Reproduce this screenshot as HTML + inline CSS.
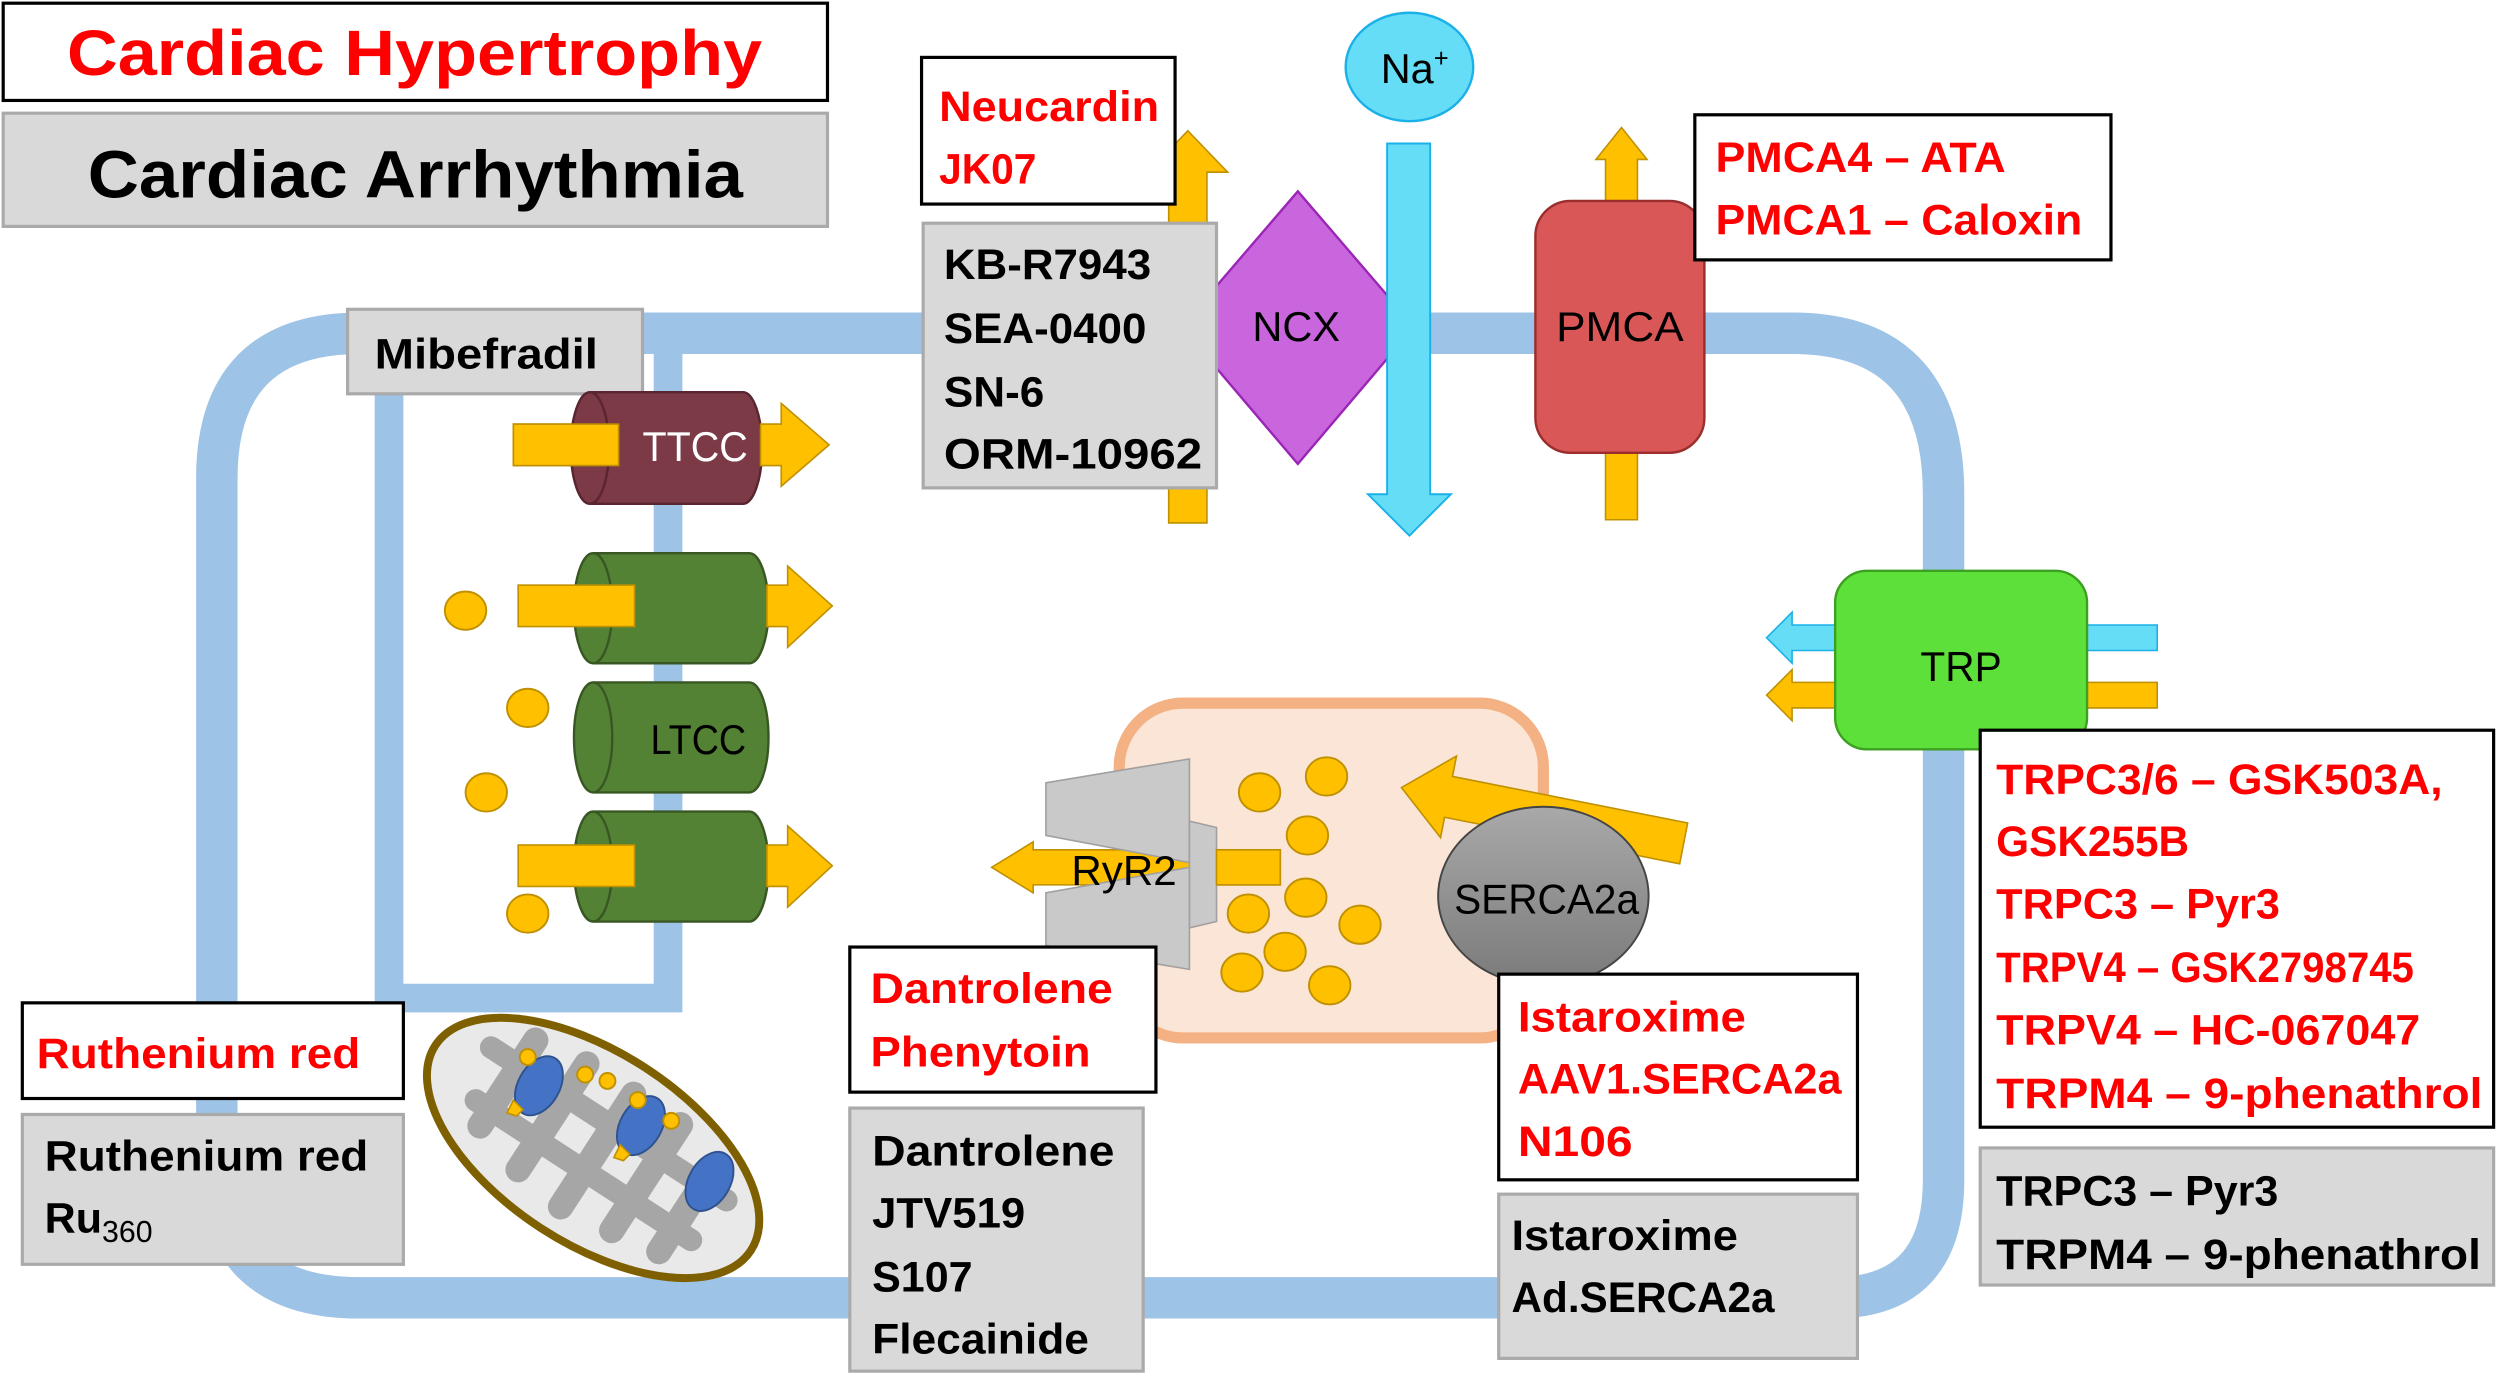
<!DOCTYPE html>
<html><head><meta charset="utf-8"><style>
html,body{margin:0;padding:0;background:#fff;}
svg{display:block;}
.b{font-family:"Liberation Sans Narrow","Liberation Sans",sans-serif;font-weight:bold;font-size:27px;}
.r{fill:#ff0000;}
.n{font-family:"Liberation Sans Narrow","Liberation Sans",sans-serif;font-size:26px;}
.ca{fill:#ffc000;stroke:#bf9000;stroke-width:1.2;}
</style></head><body>
<svg width="2500" height="1378" viewBox="0 0 1568 864.3" preserveAspectRatio="none" xmlns="http://www.w3.org/2000/svg">
<defs>
<linearGradient id="sg" x1="0" y1="0" x2="0" y2="1"><stop offset="0" stop-color="#a9a9a9"/><stop offset="1" stop-color="#7a7a7a"/></linearGradient>
</defs>
<!-- membrane -->
<path d="M226,209 L1124,209 Q1219,209 1219,310 L1219,740 Q1219,814 1150,814 L225,814 Q136,814 136,725 L136,300 Q136,209 226,209 Z" fill="none" stroke="#9dc3e6" stroke-width="26"/>
<path d="M244,222 L244,626 L419,626 L419,209" fill="none" stroke="#9dc3e6" stroke-width="18"/>

<!-- title boxes -->
<rect x="2" y="2" width="517" height="61" fill="#fff" stroke="#000" stroke-width="2"/>
<text x="260" y="47" text-anchor="middle" class="b r" style="font-size:40px" textLength="436" lengthAdjust="spacingAndGlyphs">Cardiac Hypertrophy</text>
<rect x="2" y="71" width="517" height="71" fill="#d9d9d9" stroke="#aaa" stroke-width="2"/>
<text x="55" y="124" class="b" style="font-size:42px" textLength="411" lengthAdjust="spacingAndGlyphs">Cardiac Arrhythmia</text>

<!-- Mibefradil -->
<rect x="218" y="194" width="185" height="53" fill="#d9d9d9" stroke="#aaa" stroke-width="2"/>
<text x="235" y="231" class="b" textLength="140" lengthAdjust="spacingAndGlyphs">Mibefradil</text>

<!-- TTCC -->
<rect x="322" y="266" width="76" height="26" fill="#ffc000" stroke="#bf9000" stroke-width="1"/>
<path d="M370,246 L466,246 A12,35 0 0 1 466,316 L370,316 A12,35 0 0 1 370,246 Z" fill="#7b3a46" stroke="#5a2530" stroke-width="1.5"/>
<path d="M370,246 A12,35 0 0 1 370,316" fill="none" stroke="#5a2530" stroke-width="1.5"/>
<rect x="322" y="266" width="66" height="26" fill="#ffc000" stroke="#bf9000" stroke-width="1"/>
<polygon points="477,266 490,266 490,253 520,279 490,305 490,292 477,292" fill="#ffc000" stroke="#bf9000" stroke-width="1"/>
<text x="436" y="289" text-anchor="middle" class="n" style="fill:#fff" textLength="66" lengthAdjust="spacingAndGlyphs">TTCC</text>

<!-- LTCC cylinders -->
<g fill="#548235" stroke="#385723" stroke-width="1.5">
<path d="M372,347 L470,347 A12,34.5 0 0 1 470,416 L372,416 A12,34.5 0 0 1 372,347 Z"/>
<path d="M372,347 A12,34.5 0 0 1 372,416" fill="none"/>
<path d="M372,428 L470,428 A12,34.5 0 0 1 470,497 L372,497 A12,34.5 0 0 1 372,428 Z"/>
<path d="M372,428 A12,34.5 0 0 1 372,497" fill="none"/>
<path d="M372,509 L470,509 A12,34.5 0 0 1 470,578 L372,578 A12,34.5 0 0 1 372,509 Z"/>
<path d="M372,509 A12,34.5 0 0 1 372,578" fill="none"/>
</g>
<g fill="#ffc000" stroke="#bf9000" stroke-width="1">
<rect x="325" y="367" width="73" height="26"/>
<polygon points="481,367 494,367 494,355 522,380 494,406 494,393 481,393"/>
<rect x="325" y="530" width="73" height="26"/>
<polygon points="481,530 494,530 494,518 522,543 494,569 494,556 481,556"/>
</g>
<text x="438" y="473" text-anchor="middle" class="n" textLength="60" lengthAdjust="spacingAndGlyphs">LTCC</text>
<ellipse class="ca" cx="292" cy="383" rx="13" ry="12"/>
<ellipse class="ca" cx="331" cy="444" rx="13" ry="12"/>
<ellipse class="ca" cx="305" cy="497" rx="13" ry="12"/>
<ellipse class="ca" cx="331" cy="573" rx="13" ry="12"/>

<!-- NCX -->
<polygon points="733,328 757,328 757,108 770,108 745,82 720,108 733,108" fill="#ffc000" stroke="#bf9000" stroke-width="1"/>
<rect x="578" y="36" width="159" height="92" fill="#fff" stroke="#000" stroke-width="2"/>
<text x="589" y="76" class="b r" textLength="138" lengthAdjust="spacingAndGlyphs">Neucardin</text>
<text x="589" y="115" class="b r" textLength="61" lengthAdjust="spacingAndGlyphs">JK07</text>
<polygon points="814,120 887,205 814,291 741,205" fill="#c966dd" stroke="#9b26b6" stroke-width="1.5"/>
<rect x="579" y="140" width="184" height="166" fill="#d9d9d9" stroke="#aaa" stroke-width="2"/>
<text x="592" y="175" class="b" textLength="130" lengthAdjust="spacingAndGlyphs">KB-R7943</text>
<text x="592" y="215" class="b" textLength="127" lengthAdjust="spacingAndGlyphs">SEA-0400</text>
<text x="592" y="255" class="b" textLength="63" lengthAdjust="spacingAndGlyphs">SN-6</text>
<text x="592" y="294" class="b" textLength="162" lengthAdjust="spacingAndGlyphs">ORM-10962</text>
<polygon points="870,90 897,90 897,310 910,310 884,336 858,310 870,310" fill="#66ddf7" stroke="#1ab0e8" stroke-width="1.2"/>
<text x="813" y="214" text-anchor="middle" class="n" textLength="55" lengthAdjust="spacingAndGlyphs">NCX</text>
<ellipse cx="884" cy="42" rx="40" ry="34" fill="#66ddf7" stroke="#1ab0e8" stroke-width="1.5"/>
<text x="866" y="52" class="n">Na<tspan dy="-10" style="font-size:16px">+</tspan></text>

<!-- PMCA -->
<polygon points="1007,326 1027,326 1027,100 1033,100 1017,80 1001,100 1007,100" fill="#ffc000" stroke="#bf9000" stroke-width="1"/>
<rect x="963" y="126" width="106" height="158" rx="22" fill="#d95757" stroke="#9b2d2d" stroke-width="1.5"/>
<text x="1016" y="214" text-anchor="middle" class="n" textLength="80" lengthAdjust="spacingAndGlyphs">PMCA</text>
<rect x="1063" y="72" width="261" height="91" fill="#fff" stroke="#000" stroke-width="2"/>
<text x="1076" y="108" class="b r" textLength="182" lengthAdjust="spacingAndGlyphs">PMCA4 – ATA</text>
<text x="1076" y="147" class="b r" textLength="230" lengthAdjust="spacingAndGlyphs">PMCA1 – Caloxin</text>

<!-- TRP -->
<polygon points="1353,392 1353,408 1124,408 1124,416 1108,400 1124,384 1124,392" fill="#66ddf7" stroke="#1ab0e8" stroke-width="1"/>
<polygon points="1353,428 1353,444 1124,444 1124,452 1108,436 1124,420 1124,428" fill="#ffc000" stroke="#bf9000" stroke-width="1"/>
<rect x="1151" y="358" width="158" height="112" rx="20" fill="#5ee03a" stroke="#3ca020" stroke-width="1.5"/>
<text x="1230" y="427" text-anchor="middle" class="n" textLength="51" lengthAdjust="spacingAndGlyphs">TRP</text>
<rect x="1242" y="458" width="322" height="249" fill="#fff" stroke="#000" stroke-width="2"/>
<text x="1252" y="498" class="b r" textLength="280" lengthAdjust="spacingAndGlyphs">TRPC3/6 – GSK503A,</text>
<text x="1252" y="537" class="b r" textLength="121" lengthAdjust="spacingAndGlyphs">GSK255B</text>
<text x="1252" y="576" class="b r" textLength="178" lengthAdjust="spacingAndGlyphs">TRPC3 – Pyr3</text>
<text x="1252" y="616" class="b r" textLength="262" lengthAdjust="spacingAndGlyphs">TRPV4 – GSK2798745</text>
<text x="1252" y="655" class="b r" textLength="266" lengthAdjust="spacingAndGlyphs">TRPV4 – HC-067047</text>
<text x="1252" y="695" class="b r" textLength="305" lengthAdjust="spacingAndGlyphs">TRPM4 – 9-phenathrol</text>
<rect x="1242" y="720" width="322" height="86" fill="#d9d9d9" stroke="#aaa" stroke-width="2"/>
<text x="1252" y="756" class="b" textLength="177" lengthAdjust="spacingAndGlyphs">TRPC3 – Pyr3</text>
<text x="1252" y="796" class="b" textLength="304" lengthAdjust="spacingAndGlyphs">TRPM4 – 9-phenathrol</text>

<!-- SR -->
<rect x="702" y="441" width="266" height="210" rx="40" fill="#fbe5d6" stroke="#f4b183" stroke-width="7"/>
<ellipse class="ca" cx="790" cy="497" rx="13" ry="12"/>
<ellipse class="ca" cx="832" cy="487" rx="13" ry="12"/>
<ellipse class="ca" cx="820" cy="524" rx="13" ry="12"/>
<ellipse class="ca" cx="819" cy="563" rx="13" ry="12"/>
<ellipse class="ca" cx="783" cy="573" rx="13" ry="12"/>
<ellipse class="ca" cx="853" cy="580" rx="13" ry="12"/>
<ellipse class="ca" cx="806" cy="597" rx="13" ry="12"/>
<ellipse class="ca" cx="779" cy="610" rx="13" ry="12"/>
<ellipse class="ca" cx="834" cy="618" rx="13" ry="12"/>
<!-- RyR2 -->
<polygon points="622,544 648,528 648,533 803,533 803,555 648,555 648,560" fill="#ffc000" stroke="#bf9000" stroke-width="1"/>
<g fill="#c9c9c9" stroke="#a0a0a0" stroke-width="1">
<polygon points="656,491 746,476 746,541 656,524"/>
<polygon points="746,515 763,519 763,578 746,582"/>
<polygon points="656,560 746,544 746,608 656,593"/>
</g>
<rect x="763" y="533" width="40" height="22" fill="#ffc000" stroke="#bf9000" stroke-width="1"/>
<text x="705" y="555" text-anchor="middle" class="n" textLength="66" lengthAdjust="spacingAndGlyphs">RyR2</text>
<!-- SERCA -->
<polygon points="1058.5,516.2 1053.5,541.8 906,512.6 903.5,525.4 879,494 913.5,474.2 911,487" fill="#ffc000" stroke="#bf9000" stroke-width="1"/>
<ellipse cx="968" cy="562" rx="66" ry="56" fill="url(#sg)" stroke="#444" stroke-width="1.2"/>
<text x="970" y="573" text-anchor="middle" class="n" textLength="116" lengthAdjust="spacingAndGlyphs">SERCA2a</text>

<!-- Dantrolene boxes -->
<rect x="533" y="594" width="192" height="91" fill="#fff" stroke="#000" stroke-width="2"/>
<text x="546" y="629" class="b r" textLength="152" lengthAdjust="spacingAndGlyphs">Dantrolene</text>
<text x="546" y="669" class="b r" textLength="138" lengthAdjust="spacingAndGlyphs">Phenytoin</text>
<rect x="533" y="695" width="184" height="165" fill="#d9d9d9" stroke="#aaa" stroke-width="2"/>
<text x="547" y="731" class="b" textLength="152" lengthAdjust="spacingAndGlyphs">Dantrolene</text>
<text x="547" y="770" class="b" textLength="96" lengthAdjust="spacingAndGlyphs">JTV519</text>
<text x="547" y="810" class="b" textLength="63" lengthAdjust="spacingAndGlyphs">S107</text>
<text x="547" y="849" class="b" textLength="136" lengthAdjust="spacingAndGlyphs">Flecainide</text>

<!-- Istaroxime -->
<rect x="940" y="611" width="225" height="129" fill="#fff" stroke="#000" stroke-width="2"/>
<text x="952" y="647" class="b r" textLength="143" lengthAdjust="spacingAndGlyphs">Istaroxime</text>
<text x="952" y="686" class="b r" textLength="203" lengthAdjust="spacingAndGlyphs">AAV1.SERCA2a</text>
<text x="952" y="725" class="b r" textLength="72" lengthAdjust="spacingAndGlyphs">N106</text>
<rect x="940" y="749" width="225" height="103" fill="#d9d9d9" stroke="#aaa" stroke-width="2"/>
<text x="948" y="784" class="b" textLength="142" lengthAdjust="spacingAndGlyphs">Istaroxime</text>
<text x="948" y="823" class="b" textLength="165" lengthAdjust="spacingAndGlyphs">Ad.SERCA2a</text>

<!-- Ruthenium -->
<rect x="14" y="629" width="239" height="60" fill="#fff" stroke="#000" stroke-width="2"/>
<text x="23" y="670" class="b r" textLength="203" lengthAdjust="spacingAndGlyphs">Ruthenium red</text>
<rect x="14" y="699" width="239" height="94" fill="#d9d9d9" stroke="#aaa" stroke-width="2"/>
<text x="28" y="734" class="b" textLength="203" lengthAdjust="spacingAndGlyphs">Ruthenium red</text>
<text x="28" y="773" class="b">Ru<tspan dy="6" style="font-size:19px;font-weight:normal">360</tspan></text>

<!-- mitochondrion -->
<g transform="translate(372,720) rotate(33)">
<ellipse cx="0" cy="0" rx="118" ry="60" fill="#e9e9e9" stroke="#7f6000" stroke-width="5"/>
<g fill="#a6a6a6">
<rect x="-95" y="-25" width="190" height="14" rx="7"/>
<rect x="-85" y="8" width="175" height="14" rx="7"/>
<rect x="-75" y="-45" width="16" height="80" rx="8"/>
<rect x="-40" y="-50" width="16" height="95" rx="8"/>
<rect x="-5" y="-50" width="16" height="100" rx="8"/>
<rect x="30" y="-50" width="16" height="95" rx="8"/>
<rect x="62" y="-40" width="16" height="80" rx="8"/>
</g>
</g>
<g fill="#4472c4" stroke="#2f528f" stroke-width="1.2">
<ellipse cx="338" cy="681" rx="13" ry="20" transform="rotate(30 338 681)"/>
<ellipse cx="402" cy="706" rx="13" ry="20" transform="rotate(30 402 706)"/>
<ellipse cx="445" cy="741" rx="13" ry="20" transform="rotate(30 445 741)"/>
</g>
<ellipse class="ca" cx="331" cy="663" rx="5" ry="5"/>
<ellipse class="ca" cx="367" cy="674" rx="5" ry="5"/>
<ellipse class="ca" cx="381" cy="678" rx="5" ry="5"/>
<ellipse class="ca" cx="400" cy="690" rx="5" ry="5"/>
<ellipse class="ca" cx="421" cy="703" rx="5" ry="5"/>
<polygon points="322,690 328,696 324,700 318,698" fill="#ffc000" stroke="#bf9000" stroke-width="1"/>
<polygon points="389,718 395,724 391,728 385,726" fill="#ffc000" stroke="#bf9000" stroke-width="1"/>
</svg>
</body></html>
